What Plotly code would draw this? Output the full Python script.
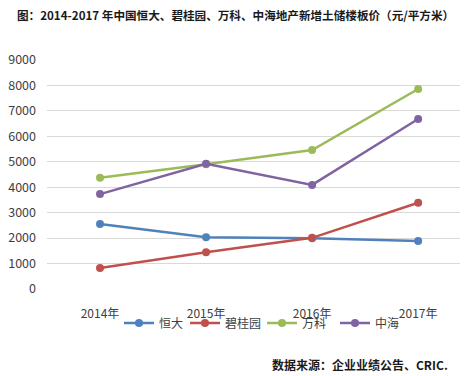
import plotly.graph_objects as go

years = ["2014年", "2015年", "2016年", "2017年"]
hengda = [2555, 2030, 1990, 1890]
biguiyuan = [825, 1440, 2010, 3390]
vanke = [4375, 4900, 5460, 7860]
zhonghai = [3730, 4920, 4090, 6680]
y_ticks = [0, 1000, 2000, 3000, 4000, 5000, 6000, 7000, 8000, 9000]

series = [("恒大", hengda, "#4F81BD", 21), ("碧桂园", biguiyuan, "#C0504D", 32),
          ("万科", vanke, "#9BBB59", 28), ("中海", zhonghai, "#8064A2", 26)]

FONT = "Noto Sans CJK SC"
W, H = 460, 368
fig = go.Figure()
for name, vals, col, lw in series:
    fig.add_trace(go.Scatter(x=years, y=vals, name=name, mode="lines+markers",
                             line=dict(color=col, width=2.5), legendwidth=lw,
                             marker=dict(color=col, size=8, symbol="circle")))

fig.update_layout(
    width=W, height=H,
    margin=dict(l=39, r=0, t=52, b=87, autoexpand=False),
    paper_bgcolor="white", plot_bgcolor="white",
    font=dict(family=FONT, size=12, color="#404040"),
    xaxis=dict(type="category", range=[-0.5, 3.47], showgrid=False, showline=False,
               ticks="", ticklabelstandoff=16, automargin=False,
               tickfont=dict(size=12, color="#404040")),
    yaxis=dict(range=[0, 9000], tickvals=y_ticks, showgrid=True, gridcolor="#D9D9D9",
               gridwidth=1, zeroline=False, showline=False, ticks="", automargin=False,
               ticklabelstandoff=10, tickfont=dict(size=12.5, color="#404040")),
    legend=dict(orientation="h", xref="container", yref="container",
                x=111 / W, y=53 / H, xanchor="left", yanchor="middle",
                font=dict(size=12, color="#404040"), bgcolor="rgba(0,0,0,0)",
                itemwidth=30, tracegroupgap=0),
    showlegend=True,
    title=dict(text="<b>图：2014-2017 年中国恒大、碧桂园、万科、中海地产新增土储楼板价（元/平方米）</b>",
               xref="container", yref="container", x=9 / W, y=1 - 7.5 / H,
               xanchor="left", yanchor="middle",
               font=dict(family=FONT, size=11.6, color="#1a1a1a")),
)
fig.add_annotation(text="<b>数据来源：企业业绩公告、CRIC.</b>",
                   xref="paper", yref="paper", x=(442 - 39) / 421, y=-(364 - 289) / 229,
                   xanchor="right", yanchor="middle", showarrow=False,
                   font=dict(family=FONT, size=12, color="#1a1a1a"))

fig.write_html("out.html")
